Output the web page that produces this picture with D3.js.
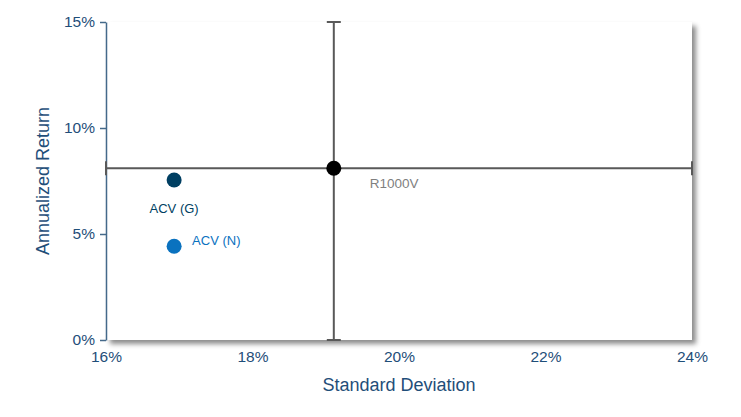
<!DOCTYPE html>
<html>
<head>
<meta charset="utf-8">
<script src="https://cdn.jsdelivr.net/npm/d3@7"></script>
<style>
  body { margin: 0; background: #fff; }
  svg { display: block; font-family: "Liberation Sans", Arial, sans-serif; }
</style>
</head>
<body>
<svg id="svg"></svg>
<script>
// values (percent)
const names = ["ACV (G)", "ACV (N)"];
const stdDev = [16.93, 16.93];
const returns = [7.55, 4.42];
const pointColors = ["#003f62", "#0a72bf"];

const benchName = "R1000V";
const benchStdDev = 19.11;
const benchReturn = 8.1;

const xTicks = [16, 18, 20, 22, 24];
const yTicks = [0, 5, 10, 15];

const width = 741;
const height = 417;
const margin = { top: 22, right: 49, bottom: 77, left: 106 };
const chartWidth = width - margin.left - margin.right;
const chartHeight = height - margin.top - margin.bottom;
const textColor = "#1f4e79";

let svg = d3.select("#svg")
    .attr("width", width)
    .attr("height", height);

// drop shadow for the plot area
let defs = svg.append("defs");
let filter = defs.append("filter")
    .attr("id", "shadow")
    .attr("x", "-5%").attr("y", "-5%")
    .attr("width", "115%").attr("height", "120%");
filter.append("feDropShadow")
    .attr("dx", 4).attr("dy", 4)
    .attr("stdDeviation", 2.5)
    .attr("flood-color", "#000")
    .attr("flood-opacity", 0.45);

let chart = svg.append("g")
    .attr("transform", "translate(" + margin.left + "," + margin.top + ")");

let xScale = d3.scaleLinear().domain([16, 24]).range([0, chartWidth]);
let yScale = d3.scaleLinear().domain([0, 15]).range([chartHeight, 0]);

chart.append("rect")
    .attr("x", 0).attr("y", 0)
    .attr("width", chartWidth).attr("height", chartHeight)
    .attr("fill", "#fff")
    .attr("filter", "url(#shadow)");

// y axis
let yAxis = chart.append("g")
    .attr("class", "y-axis")
    .call(d3.axisLeft(yScale).tickValues(yTicks).tickFormat(d => d + "%").tickSize(6).tickSizeOuter(0));
yAxis.select(".domain").attr("stroke", "#44698a").attr("stroke-width", 1.5);
yAxis.selectAll(".tick line").attr("stroke", "#44698a").attr("stroke-width", 1.5);
yAxis.selectAll("text")
    .attr("fill", textColor)
    .style("font-size", "15.5px")
    .attr("x", -11);

// x axis: labels only
let xAxis = chart.append("g")
    .attr("class", "x-axis")
    .attr("transform", `translate(0,${chartHeight})`)
    .call(d3.axisBottom(xScale).tickValues(xTicks).tickFormat(d => d + "%").tickSize(0));
xAxis.select(".domain").remove();
xAxis.selectAll("text")
    .attr("fill", textColor)
    .style("font-size", "15.5px")
    .attr("dy", "1em")
    .attr("y", 6);

// benchmark crosshair (error bars spanning the chart)
const lineColor = "#595959";
const bx = xScale(benchStdDev);
const by = yScale(benchReturn);
const cap = 7;
let cross = chart.append("g").attr("stroke", lineColor).attr("stroke-width", 2);
cross.append("line")
    .attr("x1", xScale(16)).attr("x2", xScale(24))
    .attr("y1", by).attr("y2", by);
cross.append("line")
    .attr("x1", xScale(24)).attr("x2", xScale(24))
    .attr("y1", by - cap).attr("y2", by + cap);
cross.append("line")
    .attr("x1", xScale(16)).attr("x2", xScale(16))
    .attr("y1", by - cap).attr("y2", by + cap);
cross.append("line")
    .attr("x1", bx).attr("x2", bx)
    .attr("y1", yScale(15)).attr("y2", yScale(0));
cross.append("line")
    .attr("x1", bx - cap).attr("x2", bx + cap)
    .attr("y1", yScale(15)).attr("y2", yScale(15));
cross.append("line")
    .attr("x1", bx - cap).attr("x2", bx + cap)
    .attr("y1", yScale(0)).attr("y2", yScale(0));

chart.append("circle")
    .attr("cx", bx).attr("cy", by).attr("r", 7.5)
    .attr("fill", "#000");
chart.append("text")
    .attr("x", bx + 36).attr("y", by + 20)
    .attr("fill", "#7f7f7f")
    .style("font-size", "13.5px")
    .text(benchName);

// manager points
chart.selectAll(".pt")
    .data(names)
    .enter()
    .append("circle")
    .attr("class", "pt")
    .attr("cx", (d, i) => xScale(stdDev[i]))
    .attr("cy", (d, i) => yScale(returns[i]))
    .attr("r", 7.5)
    .attr("fill", (d, i) => pointColors[i]);

// labels: G below, N to the right
chart.append("text")
    .attr("x", xScale(stdDev[0]))
    .attr("y", yScale(returns[0]) + 33)
    .attr("text-anchor", "middle")
    .attr("fill", pointColors[0])
    .style("font-size", "13px")
    .text(names[0]);
chart.append("text")
    .attr("x", xScale(stdDev[1]) + 18)
    .attr("y", yScale(returns[1]) - 1)
    .attr("fill", pointColors[1])
    .style("font-size", "13px")
    .text(names[1]);

// axis titles
svg.append("text")
    .attr("x", margin.left + xScale(20))
    .attr("y", 391)
    .attr("text-anchor", "middle")
    .attr("fill", textColor)
    .style("font-size", "18px")
    .text("Standard Deviation");

svg.append("text")
    .attr("transform", "translate(49," + (margin.top + chartHeight / 2) + ") rotate(-90)")
    .attr("text-anchor", "middle")
    .attr("fill", textColor)
    .style("font-size", "18px")
    .text("Annualized Return");
</script>
</body>
</html>
